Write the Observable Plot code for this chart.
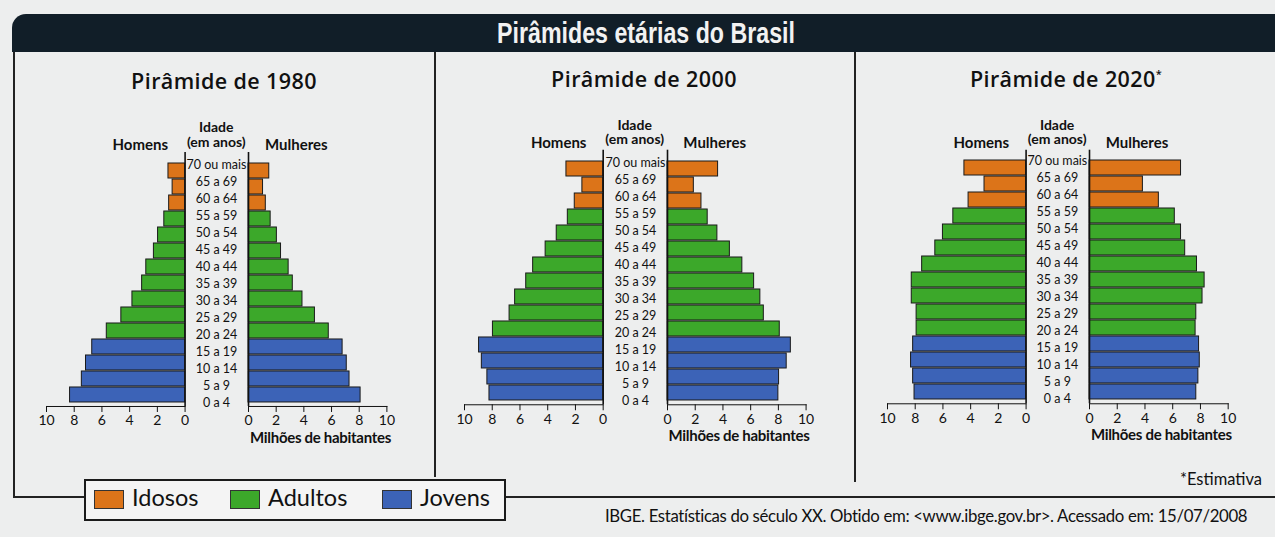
<!DOCTYPE html>
<html>
<head>
<meta charset="utf-8">
<script src="https://cdn.jsdelivr.net/npm/d3@7"></script>
<script src="https://cdn.jsdelivr.net/npm/@observablehq/plot@0.6"></script>
<style>
  html, body { margin: 0; padding: 0; background: #edeeee; }
  #page { position: relative; width: 1275px; height: 537px; overflow: hidden; background: #edeeee; font-family: Lato, "Open Sans", sans-serif; color: #111; }
  .abs { position: absolute; }
  .lbl { position: absolute; white-space: nowrap; transform: translate(-50%, -50%); line-height: 1; }
  .plot { position: absolute; }
</style>
</head>
<body>
<div id="page"></div>
<script>
// ---------- DATA ----------
const ages = ["70 ou mais", "65 a 69", "60 a 64", "55 a 59", "50 a 54", "45 a 49", "40 a 44",
              "35 a 39", "30 a 34", "25 a 29", "20 a 24", "15 a 19", "10 a 14", "5 a 9", "0 a 4"];
const ageGroups = ["Idosos", "Idosos", "Idosos", "Adultos", "Adultos", "Adultos", "Adultos",
                   "Adultos", "Adultos", "Adultos", "Adultos", "Jovens", "Jovens", "Jovens", "Jovens"];
const groups = ["Idosos", "Adultos", "Jovens"];
const groupColors = ["#dc7419", "#3ca82a", "#3c63b7"];
const xTicks = [0, 2, 4, 6, 8, 10];

const years = ["1980", "2000", "2020"];
const panelTitles = ["Pirâmide de 1980", "Pirâmide de 2000", "Pirâmide de 2020"];
const men1980   = [1.2, 0.9, 1.15, 1.5, 1.95, 2.25, 2.8, 3.1, 3.8, 4.6, 5.65, 6.7, 7.15, 7.45, 8.3];
const women1980 = [1.5, 1.05, 1.25, 1.6, 2.05, 2.35, 2.9, 3.2, 3.9, 4.8, 5.8, 6.8, 7.1, 7.3, 8.1];
const men2000   = [2.65, 1.5, 2.05, 2.55, 3.35, 4.15, 5.05, 5.55, 6.35, 6.75, 7.95, 8.95, 8.75, 8.35, 8.2];
const women2000 = [3.65, 1.9, 2.45, 2.9, 3.6, 4.5, 5.4, 6.25, 6.7, 6.95, 8.1, 8.9, 8.6, 8.05, 8.0];
const men2020   = [4.45, 3.0, 4.15, 5.25, 6.0, 6.55, 7.5, 8.25, 8.25, 7.9, 7.9, 8.15, 8.3, 8.15, 8.05];
const women2020 = [6.6, 3.85, 5.0, 6.15, 6.6, 6.9, 7.75, 8.3, 8.15, 7.7, 7.65, 7.9, 7.95, 7.85, 7.7];
const menSeries = [men1980, men2000, men2020];
const womenSeries = [women1980, women2000, women2020];

const mainTitle = "Pirâmides etárias do Brasil";
const sourceText = "IBGE. Estatísticas do século XX. Obtido em: <www.ibge.gov.br>. Acessado em: 15/07/2008";
const noteText = "*Estimativa";

// ---------- LAYOUT ----------
const page = document.getElementById("page");
function div(cls, css, html) {
  const d = document.createElement("div");
  d.className = cls;
  Object.assign(d.style, css);
  if (html !== undefined) d.innerHTML = html;
  page.appendChild(d);
  return d;
}
function lbl(text, x, y, css) {
  const d = div("lbl", Object.assign({left: x + "px", top: y + "px"}, css || {}));
  d.textContent = text;
  return d;
}

// header
div("abs", {left: "12px", top: "14px", width: "1263px", height: "38px", background: "#111e28", borderTopLeftRadius: "14px"});
lbl(mainTitle, 646, 33, {color: "#f2f2f2", fontFamily: '"Liberation Sans", Arial, sans-serif', fontWeight: "bold", fontSize: "29px", transform: "translate(-50%, -50%) scaleX(0.8)"});

// frame lines
div("abs", {left: "13px", top: "52px", width: "2px", height: "446px", background: "#222"});
div("abs", {left: "13px", top: "496px", width: "1262px", height: "2px", background: "#222"});
div("abs", {left: "434px", top: "52px", width: "1.5px", height: "425px", background: "#222"});
div("abs", {left: "854px", top: "52px", width: "1.5px", height: "430px", background: "#222"});

const panels = [
  {lt: 45.7, lz: 184.3, rz: 248.3, rt: 386.7, top: 159, bottom: 406, tx: 224, ty: 81},
  {lt: 464.0, lz: 602.7, rz: 666.7, rt: 805.3, top: 156.7, bottom: 404.3, tx: 644, ty: 79},
  {lt: 886.7, lz: 1025.3, rz: 1089.0, rt: 1227.7, top: 156.7, bottom: 403.3, tx: 1066, ty: 79}
];

const svgTop = 140, svgH = 300, inset = 7;
const colorScale = {domain: groups, range: groupColors};
const baseStyle = {fontFamily: "Lato, sans-serif", fontSize: "14px", background: "transparent", color: "#111", overflow: "visible"};

function sidePlot(values, reverse, widthPx, ml, mr, p) {
  const data = ages.map((a, i) => ({age: a, value: values[i], group: ageGroups[i]}));
  return Plot.plot({
    width: widthPx, height: svgH,
    marginTop: p.top - inset - svgTop, marginBottom: svgTop + svgH - p.bottom,
    marginLeft: ml, marginRight: mr,
    style: baseStyle,
    x: {domain: [0, 10], reverse, ticks: xTicks, tickSize: 6, tickPadding: 3, line: true, label: null, tickFormat: d => d},
    y: {domain: ages, padding: 0.04, insetTop: inset, axis: null},
    color: colorScale,
    marks: [
      Plot.barX(data, {x: "value", y: "age", fill: "group", stroke: "#1a1a1a", strokeWidth: 1}),
      Plot.ruleX([0], {stroke: "#111", strokeWidth: 1.6})
    ]
  });
}

panels.forEach((p, k) => {
  // title
  const t = lbl(panelTitles[k], p.tx, p.ty, {fontFamily: '"Open Sans", sans-serif', fontWeight: "600", fontSize: "21.5px", letterSpacing: "0.4px"});
  if (k === 2) t.innerHTML = panelTitles[k] + '<sup style="font-size:11px;vertical-align:9px">*</sup>';
  const mid = (p.lz + p.rz) / 2;
  const bold = {fontWeight: "bold", fontSize: "14px"};
  lbl("Idade", mid, p.top - 32, bold);
  lbl("(em anos)", mid, p.top - 17.5, bold);
  lbl("Homens", p.lz - 44, p.top - 15, {fontWeight: "bold", fontSize: "15px"});
  lbl("Mulheres", p.rz + 48, p.top - 15, {fontWeight: "bold", fontSize: "15px"});
  lbl("Milhões de habitantes", (p.rz + p.rt) / 2 + 3, p.bottom + 31, {fontWeight: "bold", fontSize: "15px", letterSpacing: "-0.3px"});

  // left (men)
  const ml = 20, mr = 8;
  const wl = (p.lz - p.lt) + ml + mr;
  const left = sidePlot(menSeries[k], true, wl, ml, mr, p);
  left.classList.add("plot");
  left.style.left = (p.lt - ml) + "px";
  left.style.top = svgTop + "px";
  page.appendChild(left);

  // right (women)
  const ml2 = 8, mr2 = 20;
  const wr = (p.rt - p.rz) + ml2 + mr2;
  const right = sidePlot(womenSeries[k], false, wr, ml2, mr2, p);
  right.classList.add("plot");
  right.style.left = (p.rz - ml2) + "px";
  right.style.top = svgTop + "px";
  page.appendChild(right);

  // center age labels
  const wc = p.rz - p.lz;
  const center = Plot.plot({
    width: wc, height: svgH,
    marginTop: p.top - inset - svgTop, marginBottom: svgTop + svgH - p.bottom,
    marginLeft: 0, marginRight: 0,
    style: baseStyle,
    x: {axis: null},
    y: {domain: ages, padding: 0.04, insetTop: inset, axis: null},
    marks: [
      Plot.text(ages, {y: d => d, text: d => d, fontSize: 12.5, fill: "#111", letterSpacing: "-0.6px"})
    ]
  });
  center.classList.add("plot");
  center.style.left = p.lz + "px";
  center.style.top = svgTop + "px";
  page.appendChild(center);
});

// note & source
lbl(noteText, 1221, 479, {fontSize: "16.5px"});
div("abs", {left: "605px", top: "505px", whiteSpace: "nowrap", fontSize: "16.8px", letterSpacing: "-0.35px"}).textContent = sourceText;

// legend
const leg = div("abs", {left: "84px", top: "479px", width: "418px", height: "38px", background: "#f4f4f4", border: "2px solid #1a1a1a"});
const swX = [8, 144, 296];
groups.forEach((g, i) => {
  const sw = document.createElement("div");
  Object.assign(sw.style, {position: "absolute", left: swX[i] + "px", top: "9px", width: "28px", height: "17px", background: groupColors[i], border: "1.5px solid #333"});
  leg.appendChild(sw);
  const tx = document.createElement("div");
  Object.assign(tx.style, {position: "absolute", left: (swX[i] + 38) + "px", top: "4px", fontSize: "23.5px", lineHeight: "1.1", whiteSpace: "nowrap"});
  tx.textContent = g;
  leg.appendChild(tx);
});
</script>
</body>
</html>
